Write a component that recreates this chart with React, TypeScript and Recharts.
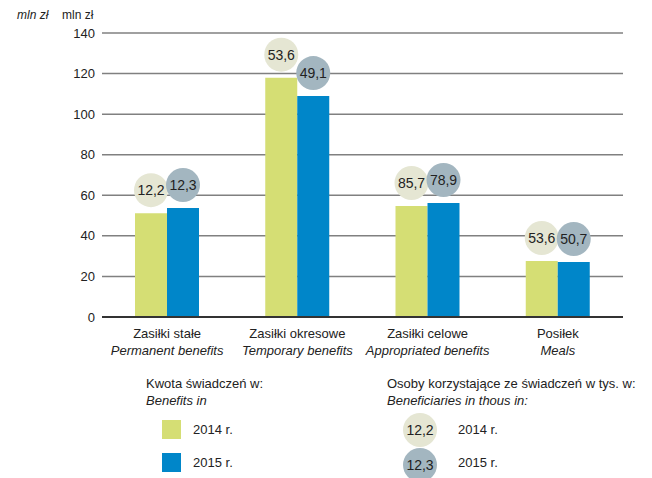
import React from "react";
import { BarChart, Bar, XAxis, YAxis, CartesianGrid, LabelList } from "recharts";

const categoriesPl = ["Zasiłki stałe", "Zasiłki okresowe", "Zasiłki celowe", "Posiłek"];
const categoriesEn = ["Permanent benefits", "Temporary benefits", "Appropriated benefits", "Meals"];
const amount2014 = [51.2, 118, 54.7, 27.6];
const amount2015 = [53.7, 108.9, 56.2, 27.1];
const people2014 = ["12,2", "53,6", "85,7", "53,6"];
const people2015 = ["12,3", "49,1", "78,9", "50,7"];
const yTicks = [0, 20, 40, 60, 80, 100, 120, 140];

const FONT = '"Liberation Sans", Arial, sans-serif';
const TEXT = "#222";
const GREEN = "#d5de74";
const BLUE = "#0086c9";
const GREEN_BUBBLE = "#e5e6d3";
const BLUE_BUBBLE = "#a3b6c0";

const data = categoriesPl.map((pl, i) => ({
  pl,
  en: categoriesEn[i],
  a2014: amount2014[i],
  a2015: amount2015[i],
  p2014: people2014[i],
  p2015: people2015[i],
}));

const bubble = (fill: string) => (props: any) => {
  const { x, y, width, value } = props;
  const cx = Number(x) + Number(width) / 2;
  const cy = Number(y) - 23;
  return (
    <g>
      <circle cx={cx} cy={cy} r={17} fill={fill} />
      <text x={cx} y={cy + 5} textAnchor="middle" fontSize={14} fill={TEXT} fontFamily={FONT}>
        {value}
      </text>
    </g>
  );
};

const CategoryTick = (props: any) => {
  const { x, y, payload } = props;
  const row = data.find((d) => d.pl === payload.value);
  return (
    <g>
      <text x={x} y={y + 13} textAnchor="middle" fontSize={13} fill={TEXT} fontFamily={FONT}>
        {payload.value}
      </text>
      <text x={x} y={y + 30} textAnchor="middle" fontSize={13} fill={TEXT} fontFamily={FONT} fontStyle="italic">
        {row ? row.en : ""}
      </text>
    </g>
  );
};

const label = (left: number, top: number, text: string, italic = false) => (
  <div
    style={{
      position: "absolute",
      left,
      top,
      fontSize: 13,
      fontFamily: FONT,
      color: TEXT,
      fontStyle: italic ? "italic" : "normal",
      whiteSpace: "nowrap",
      lineHeight: "15px",
    }}
  >
    {text}
  </div>
);

const square = (left: number, top: number, color: string) => (
  <div style={{ position: "absolute", left, top, width: 19, height: 19, background: color }} />
);

const circle = (cx: number, cy: number, color: string, text: string) => (
  <div
    style={{
      position: "absolute",
      left: cx - 17,
      top: cy - 17,
      width: 34,
      height: 34,
      borderRadius: "50%",
      background: color,
      fontFamily: FONT,
      fontSize: 14,
      color: TEXT,
      display: "flex",
      alignItems: "center",
      justifyContent: "center",
    }}
  >
    {text}
  </div>
);

export default function App() {
  return (
    <div style={{ position: "absolute", left: 0, top: 0, width: 652, height: 478, background: "#fff" }}>
      <BarChart
        width={652}
        height={478}
        data={data}
        margin={{ top: 33, right: 29, left: 0, bottom: 0 }}
        barGap={0}
        barSize={32}
      >
        <CartesianGrid horizontal vertical={false} stroke="#808080" strokeWidth={1.5} />
        <XAxis
          dataKey="pl"
          tick={<CategoryTick />}
          tickLine={false}
          axisLine={{ stroke: "#333", strokeWidth: 2 }}
          interval={0}
          height={161}
        />
        <YAxis
          domain={[0, 140]}
          ticks={yTicks}
          interval={0}
          width={102}
          tickLine={false}
          tickSize={0}
          tickMargin={7}
          axisLine={false}
          tick={{ fontSize: 13, fill: TEXT, fontFamily: FONT }}
        />
        <Bar dataKey="a2014" fill={GREEN} isAnimationActive={false}>
          <LabelList dataKey="p2014" content={bubble(GREEN_BUBBLE)} />
        </Bar>
        <Bar dataKey="a2015" fill={BLUE} isAnimationActive={false}>
          <LabelList dataKey="p2015" content={bubble(BLUE_BUBBLE)} />
        </Bar>
      </BarChart>

      <div style={{ position: "absolute", left: 17, top: 8, fontSize: 12, fontFamily: FONT, color: TEXT, fontStyle: "italic" }}>
        mln zł
      </div>
      <div style={{ position: "absolute", left: 62, top: 8, fontSize: 12, fontFamily: FONT, color: TEXT }}>mln zł</div>

      {label(146, 376, "Kwota świadczeń w:")}
      {label(146, 393, "Benefits in", true)}
      {square(162, 420, GREEN)}
      {label(193, 422, "2014 r.")}
      {square(162, 453, BLUE)}
      {label(193, 455, "2015 r.")}

      {label(387, 376, "Osoby korzystające ze świadczeń w tys. w:")}
      {label(387, 393, "Beneficiaries in thous in:", true)}
      {circle(420, 430, GREEN_BUBBLE, "12,2")}
      {label(458, 422, "2014 r.")}
      {circle(420, 465, BLUE_BUBBLE, "12,3")}
      {label(458, 455, "2015 r.")}
    </div>
  );
}
